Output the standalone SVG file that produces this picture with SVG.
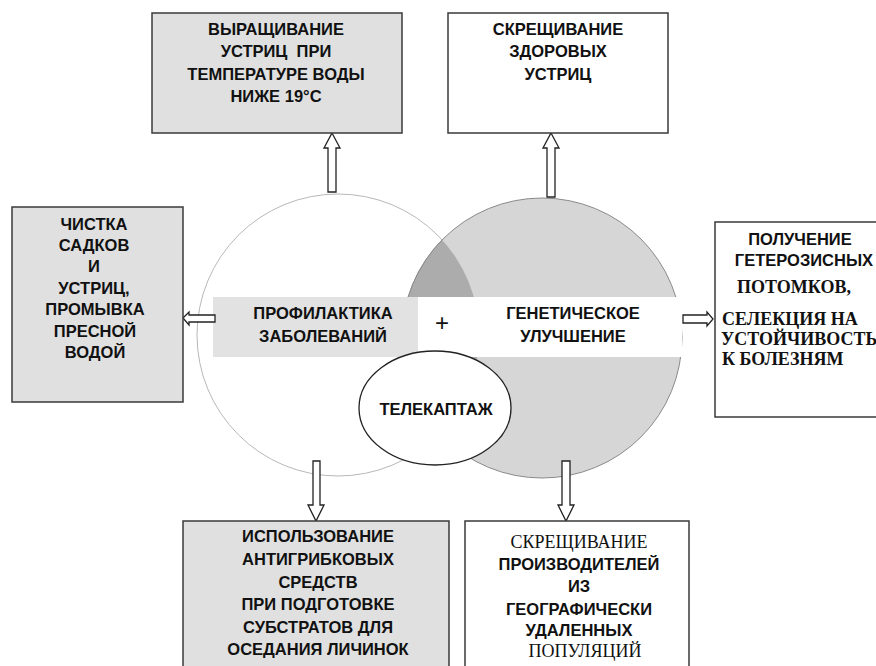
<svg xmlns="http://www.w3.org/2000/svg" width="876" height="666" viewBox="0 0 876 666">
<style>
.box{stroke:#3a3a3a;stroke-width:1.5}
.g{fill:#e0e0e0}
.w{fill:#ffffff}
.arr{fill:#ffffff;stroke:#222;stroke-width:1.3;stroke-linejoin:miter}
.s{font-family:"Liberation Sans",Arial,sans-serif;font-weight:bold;font-size:16.5px;text-anchor:middle;fill:#111}
.t{font-family:"Liberation Serif","Times New Roman",serif;font-size:18px;fill:#111}
</style>
<defs>
<clipPath id="leftClip"><circle cx="338" cy="335" r="141"/></clipPath>
</defs>
<rect width="876" height="666" fill="#ffffff"/>

<g id="center">
<circle cx="338" cy="335" r="141" fill="#ffffff" stroke="#b8b8b8" stroke-width="1"/>
<circle cx="542" cy="338" r="140" fill="#d6d6d6" stroke="#8a8a8a" stroke-width="1"/>
<circle cx="542" cy="338" r="140" fill="#acacac" stroke="#8a8a8a" stroke-width="1" clip-path="url(#leftClip)"/>
<rect x="213" y="297" width="205" height="60" fill="#e2e2e2"/>
<rect x="418" y="297" width="47" height="60" fill="#ffffff"/>
<rect x="465" y="297" width="217" height="60" fill="#ffffff"/>
<text class="s" x="323" y="319">ПРОФИЛАКТИКА</text>
<text class="s" x="323" y="342">ЗАБОЛЕВАНИЙ</text>
<text x="442" y="331" font-family="Liberation Sans,Arial,sans-serif" font-size="24" text-anchor="middle" fill="#111">+</text>
<text class="s" x="573" y="319">ГЕНЕТИЧЕСКОЕ</text>
<text class="s" x="573" y="342">УЛУЧШЕНИЕ</text>
</g>

<g id="telekaptazh">
<ellipse cx="435" cy="408" rx="76" ry="57" fill="#ffffff" stroke="#222" stroke-width="1.3"/>
<text class="s" x="436" y="415">ТЕЛЕКАПТАЖ</text>
</g>

<g id="connectors">
<polygon class="arr" points="332,133 340,148 336,148 336,192 328,192 328,148 324,148"/>
<polygon class="arr" points="551,133 559,148 555,148 555,197 547,197 547,148 543,148"/>
<polygon class="arr" points="183,318 189,312 189,315 215,315 215,322 189,322 189,325"/>
<polygon class="arr" points="683,315 707,315 707,312 713,319 707,326 707,323 683,323"/>
<polygon class="arr" points="313,461 320,461 320,505 324,505 316,521 308,505 313,505"/>
<polygon class="arr" points="562,461 570,461 570,505 574,505 566,521 558,505 562,505"/>
</g>

<g id="box-top-left">
<rect class="box g" x="152" y="13" width="250" height="120"/>
<text class="s" font-size="17" x="276" y="35">ВЫРАЩИВАНИЕ</text>
<text class="s" font-size="17" x="276" y="57" xml:space="preserve">УСТРИЦ  ПРИ</text>
<text class="s" font-size="17" x="276" y="80">ТЕМПЕРАТУРЕ ВОДЫ</text>
<text class="s" font-size="17" x="276" y="102">НИЖЕ 19°С</text>
</g>

<g id="box-top-right">
<rect class="box w" x="448" y="13" width="220" height="120"/>
<text class="s" font-size="17" x="558" y="35">СКРЕЩИВАНИЕ</text>
<text class="s" font-size="17" x="558" y="57">ЗДОРОВЫХ</text>
<text class="s" font-size="17" x="558" y="80">УСТРИЦ</text>
</g>

<g id="box-left">
<rect class="box g" x="12" y="207" width="171" height="195"/>
<text class="s" x="94" y="230">ЧИСТКА</text>
<text class="s" x="94" y="251">САДКОВ</text>
<text class="s" x="94" y="272">И</text>
<text class="s" x="94" y="294">УСТРИЦ,</text>
<text class="s" x="95" y="315">ПРОМЫВКА</text>
<text class="s" x="95" y="337">ПРЕСНОЙ</text>
<text class="s" x="95" y="358">ВОДОЙ</text>
</g>

<g id="box-right">
<rect class="box w" x="715" y="222" width="175" height="195"/>
<text class="s" x="800" y="245">ПОЛУЧЕНИЕ</text>
<text class="s" x="804" y="266">ГЕТЕРОЗИСНЫХ</text>
<text class="t" font-weight="bold" x="794" y="293" text-anchor="middle">ПОТОМКОВ,</text>
<text class="t" font-weight="bold" x="722" y="325">СЕЛЕКЦИЯ НА</text>
<text class="t" font-weight="bold" x="721" y="345" font-size="17.2">УСТОЙЧИВОСТЬ</text>
<text class="t" font-weight="bold" x="722" y="365">К БОЛЕЗНЯМ</text>
</g>

<g id="box-bottom-left">
<rect class="box g" x="183" y="521" width="266" height="150"/>
<text class="s" x="318" y="542">ИСПОЛЬЗОВАНИЕ</text>
<text class="s" x="318" y="565">АНТИГРИБКОВЫХ</text>
<text class="s" x="318" y="588">СРЕДСТВ</text>
<text class="s" x="318" y="610">ПРИ ПОДГОТОВКЕ</text>
<text class="s" x="318" y="633">СУБСТРАТОВ ДЛЯ</text>
<text class="s" x="318" y="655">ОСЕДАНИЯ ЛИЧИНОК</text>
</g>

<g id="box-bottom-right">
<rect class="box w" x="465" y="521" width="224" height="150"/>
<text class="t" x="579" y="548" text-anchor="middle" font-size="19">СКРЕЩИВАНИЕ</text>
<text class="s" x="579" y="570">ПРОИЗВОДИТЕЛЕЙ</text>
<text class="s" x="579" y="592">ИЗ</text>
<text class="s" x="579" y="615">ГЕОГРАФИЧЕСКИ</text>
<text class="s" x="579" y="636">УДАЛЕННЫХ</text>
<text class="t" x="585" y="657" text-anchor="middle" font-size="20">ПОПУЛЯЦИЙ</text>
</g>
</svg>
